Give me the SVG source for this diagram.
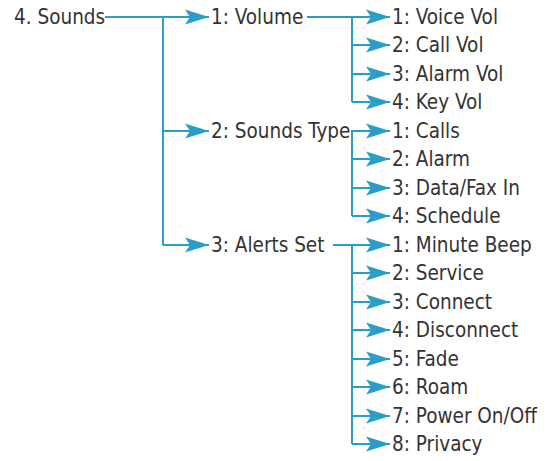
<svg xmlns="http://www.w3.org/2000/svg" width="552" height="461" viewBox="0 0 552 461">
<defs>
<marker id="ah" viewBox="-25 -8 26 16" refX="0" refY="0" markerWidth="26" markerHeight="16" markerUnits="userSpaceOnUse" orient="auto">
<path d="M0,0 L-24,-7.5 L-19,0 L-24,7.5 Z" fill="#2a9dc8"/>
</marker>
</defs>
<style>
text{font-family:"DejaVu Sans Condensed","DejaVu Sans","Liberation Sans",sans-serif;font-stretch:condensed;font-size:20.5px;fill:#333}
.c{stroke:#2a9dc8;stroke-width:2;fill:none}
.a{marker-end:url(#ah)}
</style>
<rect width="552" height="461" fill="#fff"/>
<g id="connectors">
<path class="c" d="M105,17 H163 V245"/>
<path class="c a" d="M163,17 H209"/>
<path class="c a" d="M163,131 H209"/>
<path class="c a" d="M163,245 H209"/>
<path class="c" d="M307,17 H352 V102"/>
<path class="c a" d="M352,17 H390"/>
<path class="c a" d="M352,45 H390"/>
<path class="c a" d="M352,74 H390"/>
<path class="c a" d="M352,102 H390"/>
<path class="c" d="M354,131 H352 V216"/>
<path class="c a" d="M352,131 H390"/>
<path class="c a" d="M352,159 H390"/>
<path class="c a" d="M352,188 H390"/>
<path class="c a" d="M352,216 H390"/>
<path class="c" d="M333,245 H352 V444"/>
<path class="c a" d="M352,245 H390"/>
<path class="c a" d="M352,273 H390"/>
<path class="c a" d="M352,302 H390"/>
<path class="c a" d="M352,330 H390"/>
<path class="c a" d="M352,359 H390"/>
<path class="c a" d="M352,387 H390"/>
<path class="c a" d="M352,416 H390"/>
<path class="c a" d="M352,444 H390"/>
</g>
<g id="n-sounds"><text x="14" y="24">4. Sounds</text></g>
<g id="n-volume"><text x="211" y="24">1: Volume</text></g>
<g id="n-soundstype"><text x="211" y="138">2: Sounds Type</text></g>
<g id="n-alertsset"><text x="211" y="252">3: Alerts Set</text></g>
<g id="n-voicevol"><text x="392" y="24">1: Voice Vol</text></g>
<g id="n-callvol"><text x="392" y="52">2: Call Vol</text></g>
<g id="n-alarmvol"><text x="392" y="81">3: Alarm Vol</text></g>
<g id="n-keyvol"><text x="392" y="109">4: Key Vol</text></g>
<g id="n-calls"><text x="392" y="138">1: Calls</text></g>
<g id="n-alarm"><text x="392" y="166">2: Alarm</text></g>
<g id="n-datafax"><text x="392" y="195">3: Data/Fax In</text></g>
<g id="n-schedule"><text x="392" y="223">4: Schedule</text></g>
<g id="n-minutebeep"><text x="392" y="252">1: Minute Beep</text></g>
<g id="n-service"><text x="392" y="280">2: Service</text></g>
<g id="n-connect"><text x="392" y="309">3: Connect</text></g>
<g id="n-disconnect"><text x="392" y="337">4: Disconnect</text></g>
<g id="n-fade"><text x="392" y="366">5: Fade</text></g>
<g id="n-roam"><text x="392" y="394">6: Roam</text></g>
<g id="n-power"><text x="392" y="423">7: Power On/Off</text></g>
<g id="n-privacy"><text x="392" y="451">8: Privacy</text></g>
</svg>
